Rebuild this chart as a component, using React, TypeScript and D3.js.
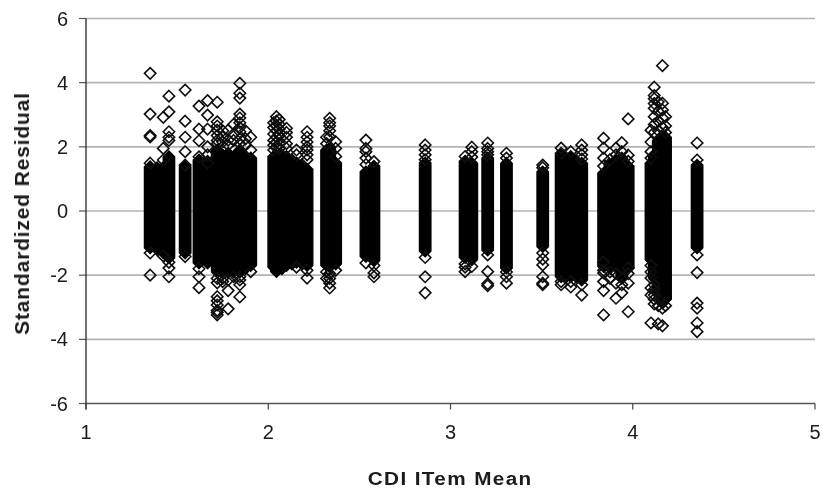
import React from "react";
import * as d3 from "d3";

const W = 823, H = 496;
const xTicks = [1, 2, 3, 4, 5];
const yTicks = [-6, -4, -2, 0, 2, 4, 6];
const xTitle = "CDI ITem Mean";
const yTitle = "Standardized Residual";

// Item means (x) where overplotted residuals merge into a solid mass
const itemMeans = [1.352, 1.39, 1.424, 1.455, 1.544, 1.62, 1.667, 1.72, 1.75, 1.78, 1.81, 1.844, 1.875, 1.904,
  2.03, 2.045, 2.075, 2.1, 2.13, 2.155, 2.185, 2.213, 2.32, 2.337, 2.37, 2.536, 2.58, 2.861, 3.08, 3.117, 3.204, 3.307,
  3.506, 3.607, 3.635, 3.66, 3.69, 3.72, 3.84, 3.875, 3.908, 3.94, 3.975, 4.10, 4.118, 4.14, 4.163, 4.18, 4.353];
// Lower and upper edge of each solid mass
const massLow = [-1.15, -1.2, -1.3, -1.46, -1.31, -1.62, -1.62, -1.9, -1.9, -1.9, -1.9, -1.9, -1.8, -1.7,
  -1.75, -1.89, -1.8, -1.7, -1.65, -1.6, -1.65, -1.7, -1.7, -1.74, -1.65, -1.42, -1.55, -1.25, -1.45, -1.52, -1.22, -1.78,
  -1.11, -2.05, -2.05, -2.05, -2.05, -2.15, -1.73, -1.75, -1.75, -2.1, -1.78, -1.52, -2.1, -2.6, -2.87, -2.75, -1.15];
const massHigh = [1.38, 1.35, 1.35, 1.69, 1.38, 1.59, 1.55, 1.9, 1.75, 1.8, 1.7, 1.9, 1.7, 1.65,
  1.7, 1.74, 1.75, 1.7, 1.6, 1.5, 1.45, 1.3, 1.9, 1.96, 1.5, 1.22, 1.4, 1.5, 1.55, 1.49, 1.65, 1.49,
  1.22, 1.75, 1.65, 1.7, 1.55, 1.49, 1.18, 1.45, 1.6, 1.65, 1.4, 1.49, 1.75, 2.2, 2.31, 2.3, 1.43];

// Residuals that stand clear of the masses: [item mean, residuals]
const looseResiduals: [number, number[]][] = [
  [1.352, [4.29, 3.02, 2.35, 2.31, 1.49, -1.31, -2.0]],
  [1.424, [2.92, 1.95, 1.59, -1.4]],
  [1.455, [3.58, 3.09, 2.47, 2.3, 2.2, -1.6, -1.78, -2.05]],
  [1.544, [3.77, 2.8, 2.3, 1.85, 1.43, -1.42]],
  [1.62, [3.27, 2.55, 2.19, 1.69, -2.05, -2.39, -1.8]],
  [1.667, [3.44, 2.99, 2.55, 2.0, 1.75, 1.49]],
  [1.72, [3.39, 2.78, 2.65, 2.52, 2.35, 2.2, 2.1, -2.1, -2.24, -2.67, -2.8, -2.93, -3.1, -3.16, -3.24]],
  [1.75, [2.5, 2.3, 2.15, -2.1, -2.2]],
  [1.78, [2.52, 2.21, 2.05, -2.15, -2.48, -3.05]],
  [1.81, [2.7, 2.4, 2.2, -2.05]],
  [1.844, [3.98, 3.67, 3.52, 3.02, 2.9, 2.75, 2.6, 2.47, 2.25, 2.1, -2.05, -2.15, -2.3, -2.68]],
  [1.875, [2.5, 2.25, 2.05]],
  [1.904, [2.3, 1.9, -1.89]],
  [2.03, [2.75, 2.6, 2.4, 2.2, 2.05, 1.9]],
  [2.045, [2.94, 2.8, 2.65, 2.5, 2.3, 2.15, 2.0]],
  [2.06, [2.85, 2.7, 2.55, 2.35, 2.1, 1.95]],
  [2.1, [2.58, 2.45, 2.3, 2.1, 1.95]],
  [2.155, [1.9, 1.75, -1.75]],
  [2.213, [2.47, 2.3, 2.15, 2.0, 1.9, 1.75, 1.6, -1.85, -2.09]],
  [2.32, [2.1, 2.3, -1.9, -2.1]],
  [2.337, [2.89, 2.75, 2.65, 2.5, 2.31, -1.95, -2.1, -2.25, -2.4]],
  [2.37, [2.16, 1.95, 1.7, -1.85]],
  [2.536, [2.21, 1.95, 1.85, 1.65, 1.45, -1.62]],
  [2.58, [1.54, -1.7, -1.93, -2.05]],
  [2.861, [2.06, 1.9, 1.75, 1.6, -1.45, -2.05, -2.55]],
  [3.08, [1.7, -1.65, -1.75, -1.89]],
  [3.117, [1.99, 1.85, 1.68, -1.73]],
  [3.204, [2.12, 1.95, 1.85, 1.75, -1.37, -1.89, -2.27, -2.33]],
  [3.307, [1.8, 1.65, -1.9, -2.05, -2.25]],
  [3.506, [1.43, 1.35, -1.31, -1.5, -1.68, -2.05, -2.25, -2.3]],
  [3.607, [1.96, 1.8, -2.2, -2.3]],
  [3.66, [1.85, -2.2, -2.37]],
  [3.72, [2.06, 1.9, 1.75, 1.62, -2.62, -2.3]],
  [3.84, [2.27, 1.96, 1.65, 1.4, -1.85, -1.93, -2.2, -2.48, -1.6, -3.24]],
  [3.875, [1.6, -1.9, -2.1]],
  [3.908, [1.96, 1.75, -1.95, -2.25, -2.72]],
  [3.94, [2.13, 1.85, -2.3, -2.55]],
  [3.975, [2.87, 1.74, 1.55, -1.78, -1.95, -2.25, -3.14]],
  [4.10, [2.52, 2.15, 1.85, 1.65, -1.7, -1.9, -2.09, -2.4, -2.62, -3.49]],
  [4.118, [3.86, 3.6, 3.5, 3.35, 3.2, 2.94, 2.7, 2.45, -2.3, -2.45, -2.62, -2.75, -2.9]],
  [4.14, [3.4, 3.1, 2.8, 2.5, -2.75, -2.95, -3.52]],
  [4.163, [4.53, 3.36, 3.15, 2.9, 2.6, -3.03, -3.58]],
  [4.18, [2.94, 2.65, 2.45, -2.95]],
  [4.353, [2.12, 1.59, -1.37, -1.92, -2.87, -3.03, -3.49, -3.76]],
];

const x = d3.scaleLinear().domain([1, 5]).range([86, 815]);
const y = d3.scaleLinear().domain([-6, 6]).range([403.5, 18.5]);
const R = 5.7;

const diamond = (px: number, py: number) =>
  d3.line()([[px, py - R], [px + R, py], [px, py + R], [px - R, py]]) + "Z";
const sweep = (px: number, lo: number, hi: number) =>
  d3.line()([[px, hi - R], [px + R, hi], [px + R, lo], [px, lo + R], [px - R, lo], [px - R, hi]]) + "Z";

const font = "'Liberation Sans', Arial, sans-serif";

export default function App() {
  return (
    <svg width={W} height={H} viewBox={`0 0 ${W} ${H}`}
      style={{ position: "absolute", left: 0, top: 0, background: "#fff" }}>
      <defs>
        <filter id="soft" x="-2%" y="-2%" width="104%" height="104%">
          <feGaussianBlur stdDeviation="0.45" />
        </filter>
      </defs>
      <g filter="url(#soft)">
        {yTicks.map((t) => (
          <g key={t}>
            {t !== -6 && <line x1={x(1)} x2={x(5)} y1={y(t)} y2={y(t)} stroke="#b4b4b4" strokeWidth={1.6} />}
            <line x1={x(1) - 7} x2={x(1)} y1={y(t)} y2={y(t)} stroke="#555" strokeWidth={1.2} />
          </g>
        ))}
        <line x1={x(1)} x2={x(5)} y1={y(-6)} y2={y(-6)} stroke="#555" strokeWidth={1.3} />
        <line x1={x(1)} x2={x(1)} y1={y(6)} y2={y(-6) + 6} stroke="#333" strokeWidth={1.4} />
        {xTicks.map((t) => (
          <line key={t} x1={x(t)} x2={x(t)} y1={y(-6)} y2={y(-6) + 6} stroke="#444" strokeWidth={1.2} />
        ))}
        {itemMeans.map((m, i) => (
          <path key={i} d={sweep(x(m), y(massLow[i]), y(massHigh[i]))} fill="#000" stroke="#000" strokeWidth={1.4} />
        ))}
        {looseResiduals.flatMap(([m, ys]) =>
          ys.map((v, j) => (
            <path key={m + "-" + j} d={diamond(x(m), y(v))} fill="none" stroke="#111" strokeWidth={1.6} />
          ))
        )}
      </g>
      <g fontFamily={font} fill="#1a1a1a" filter="url(#soft)">
        {yTicks.map((t) => (
          <text key={t} x={68} y={y(t) + 7} fontSize={20} textAnchor="end">{t}</text>
        ))}
        {xTicks.map((t) => (
          <text key={t} x={x(t)} y={439} fontSize={20} textAnchor="middle">{t}</text>
        ))}
        <text transform="translate(449.5,485) scale(1.12,1)" fontSize={18.5} fontWeight="bold" textAnchor="middle"
          textLength={146} lengthAdjust="spacing">{xTitle}</text>
        <text transform="translate(29,214) rotate(-90) scale(1.08,1)" fontSize={19.5} fontWeight="bold" textAnchor="middle"
          textLength={224} lengthAdjust="spacing">{yTitle}</text>
      </g>
    </svg>
  );
}
